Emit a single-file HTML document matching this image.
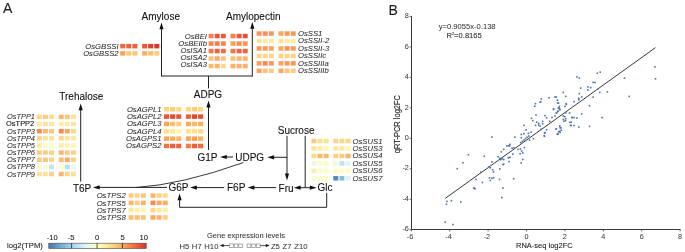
<!DOCTYPE html>
<html><head><meta charset="utf-8"><style>
html,body{margin:0;padding:0;background:#fff;}
body{width:685px;height:252px;overflow:hidden;}
svg{display:block;font-family:"Liberation Sans", sans-serif;will-change:transform;filter:blur(0.4px);}
</style></head><body>
<svg width="685" height="252" viewBox="0 0 685 252">
<defs><linearGradient id="cb" x1="0" x2="1" y1="0" y2="0"><stop offset="0.0000" stop-color="#4575b4"/><stop offset="0.1250" stop-color="#74add1"/><stop offset="0.2500" stop-color="#abd9e9"/><stop offset="0.3750" stop-color="#e0f3f8"/><stop offset="0.5000" stop-color="#ffffbf"/><stop offset="0.6250" stop-color="#fee090"/><stop offset="0.7500" stop-color="#fdae61"/><stop offset="0.8750" stop-color="#f46d43"/><stop offset="1.0000" stop-color="#d73027"/></linearGradient></defs>
<rect x="120.20" y="43.90" width="5" height="4.5" fill="#f16640"/>
<rect x="126.30" y="43.90" width="5" height="4.5" fill="#ee613d"/>
<rect x="132.40" y="43.90" width="5" height="4.5" fill="#ee613d"/>
<rect x="142.10" y="43.90" width="5" height="4.5" fill="#ea5739"/>
<rect x="148.20" y="43.90" width="5" height="4.5" fill="#df412f"/>
<rect x="154.30" y="43.90" width="5" height="4.5" fill="#da372a"/>
<text x="118.6" y="48.6" font-size="7.7" text-anchor="end" font-style="italic" fill="#2a2a2a" stroke="#2a2a2a" stroke-width="0.1" stroke-opacity="0.5">OsGBSSI</text>
<rect x="120.20" y="51.10" width="5" height="4.5" fill="#fba15b"/>
<rect x="126.30" y="51.10" width="5" height="4.5" fill="#fdc678"/>
<rect x="132.40" y="51.10" width="5" height="4.5" fill="#fdc476"/>
<rect x="142.10" y="51.10" width="5" height="4.5" fill="#fdae61"/>
<rect x="148.20" y="51.10" width="5" height="4.5" fill="#fdbe70"/>
<rect x="154.30" y="51.10" width="5" height="4.5" fill="#fecc7d"/>
<text x="118.6" y="55.8" font-size="7.7" text-anchor="end" font-style="italic" fill="#2a2a2a" stroke="#2a2a2a" stroke-width="0.1" stroke-opacity="0.5">OsGBSS2</text>
<rect x="208.60" y="33.80" width="5" height="4.5" fill="#f77f4b"/>
<rect x="214.70" y="33.80" width="5" height="4.5" fill="#e85538"/>
<rect x="220.80" y="33.80" width="5" height="4.5" fill="#eb593a"/>
<rect x="230.50" y="33.80" width="5" height="4.5" fill="#f77f4b"/>
<rect x="236.60" y="33.80" width="5" height="4.5" fill="#ea5739"/>
<rect x="242.70" y="33.80" width="5" height="4.5" fill="#e65036"/>
<text x="207" y="38.5" font-size="7.7" text-anchor="end" font-style="italic" fill="#2a2a2a" stroke="#2a2a2a" stroke-width="0.1" stroke-opacity="0.5">OsBEI</text>
<rect x="208.60" y="41.30" width="5" height="4.5" fill="#f7844e"/>
<rect x="214.70" y="41.30" width="5" height="4.5" fill="#f67d4a"/>
<rect x="220.80" y="41.30" width="5" height="4.5" fill="#f7844e"/>
<rect x="230.50" y="41.30" width="5" height="4.5" fill="#fb9e5a"/>
<rect x="236.60" y="41.30" width="5" height="4.5" fill="#f88a50"/>
<rect x="242.70" y="41.30" width="5" height="4.5" fill="#f99455"/>
<text x="207" y="45.65" font-size="7.7" text-anchor="end" font-style="italic" fill="#2a2a2a" stroke="#2a2a2a" stroke-width="0.1" stroke-opacity="0.5">OsBEIIb</text>
<rect x="208.60" y="48.80" width="5" height="4.5" fill="#f57748"/>
<rect x="214.70" y="48.80" width="5" height="4.5" fill="#ee613d"/>
<rect x="220.80" y="48.80" width="5" height="4.5" fill="#f36b42"/>
<rect x="230.50" y="48.80" width="5" height="4.5" fill="#f57748"/>
<rect x="236.60" y="48.80" width="5" height="4.5" fill="#ef633f"/>
<rect x="242.70" y="48.80" width="5" height="4.5" fill="#ef633f"/>
<text x="207" y="52.8" font-size="7.7" text-anchor="end" font-style="italic" fill="#2a2a2a" stroke="#2a2a2a" stroke-width="0.1" stroke-opacity="0.5">OsISA1</text>
<rect x="208.60" y="56.30" width="5" height="4.5" fill="#fdc476"/>
<rect x="214.70" y="56.30" width="5" height="4.5" fill="#fdab60"/>
<rect x="220.80" y="56.30" width="5" height="4.5" fill="#fdc476"/>
<rect x="230.50" y="56.30" width="5" height="4.5" fill="#fdc072"/>
<rect x="236.60" y="56.30" width="5" height="4.5" fill="#fdb467"/>
<rect x="242.70" y="56.30" width="5" height="4.5" fill="#fdb467"/>
<text x="207" y="59.95" font-size="7.7" text-anchor="end" font-style="italic" fill="#2a2a2a" stroke="#2a2a2a" stroke-width="0.1" stroke-opacity="0.5">OsISA2</text>
<rect x="208.60" y="63.80" width="5" height="4.5" fill="#fdba6c"/>
<rect x="214.70" y="63.80" width="5" height="4.5" fill="#fdb467"/>
<rect x="220.80" y="63.80" width="5" height="4.5" fill="#feda8a"/>
<rect x="230.50" y="63.80" width="5" height="4.5" fill="#fdb265"/>
<rect x="236.60" y="63.80" width="5" height="4.5" fill="#fdb265"/>
<rect x="242.70" y="63.80" width="5" height="4.5" fill="#fdb265"/>
<text x="207" y="67.1" font-size="7.7" text-anchor="end" font-style="italic" fill="#2a2a2a" stroke="#2a2a2a" stroke-width="0.1" stroke-opacity="0.5">OsISA3</text>
<rect x="256.60" y="31.30" width="5" height="4.5" fill="#f99455"/>
<rect x="262.70" y="31.30" width="5" height="4.5" fill="#f98f53"/>
<rect x="268.80" y="31.30" width="5" height="4.5" fill="#fa9756"/>
<rect x="278.50" y="31.30" width="5" height="4.5" fill="#fca65d"/>
<rect x="284.60" y="31.30" width="5" height="4.5" fill="#fa9957"/>
<rect x="290.70" y="31.30" width="5" height="4.5" fill="#fa9957"/>
<text x="298" y="36.0" font-size="7.7" text-anchor="start" font-style="italic" fill="#2a2a2a" stroke="#2a2a2a" stroke-width="0.1" stroke-opacity="0.5">OsSS1</text>
<rect x="256.60" y="38.75" width="5" height="4.5" fill="#fee192"/>
<rect x="262.70" y="38.75" width="5" height="4.5" fill="#feeca3"/>
<rect x="268.80" y="38.75" width="5" height="4.5" fill="#feeca3"/>
<rect x="278.50" y="38.75" width="5" height="4.5" fill="#fee294"/>
<rect x="284.60" y="38.75" width="5" height="4.5" fill="#feeca3"/>
<rect x="290.70" y="38.75" width="5" height="4.5" fill="#feefa7"/>
<text x="298" y="43.45" font-size="7.7" text-anchor="start" font-style="italic" fill="#2a2a2a" stroke="#2a2a2a" stroke-width="0.1" stroke-opacity="0.5">OsSSII-2</text>
<rect x="256.60" y="46.20" width="5" height="4.5" fill="#fa9957"/>
<rect x="262.70" y="46.20" width="5" height="4.5" fill="#fa9957"/>
<rect x="268.80" y="46.20" width="5" height="4.5" fill="#fca45c"/>
<rect x="278.50" y="46.20" width="5" height="4.5" fill="#fca95f"/>
<rect x="284.60" y="46.20" width="5" height="4.5" fill="#f99455"/>
<rect x="290.70" y="46.20" width="5" height="4.5" fill="#fa9957"/>
<text x="298" y="50.9" font-size="7.7" text-anchor="start" font-style="italic" fill="#2a2a2a" stroke="#2a2a2a" stroke-width="0.1" stroke-opacity="0.5">OsSSII-3</text>
<rect x="256.60" y="53.65" width="5" height="4.5" fill="#fed687"/>
<rect x="262.70" y="53.65" width="5" height="4.5" fill="#feda8a"/>
<rect x="268.80" y="53.65" width="5" height="4.5" fill="#fed687"/>
<rect x="278.50" y="53.65" width="5" height="4.5" fill="#fed283"/>
<rect x="284.60" y="53.65" width="5" height="4.5" fill="#fed687"/>
<rect x="290.70" y="53.65" width="5" height="4.5" fill="#fed283"/>
<text x="298" y="58.35" font-size="7.7" text-anchor="start" font-style="italic" fill="#2a2a2a" stroke="#2a2a2a" stroke-width="0.1" stroke-opacity="0.5">OsSSIIc</text>
<rect x="256.60" y="61.10" width="5" height="4.5" fill="#fb9e5a"/>
<rect x="262.70" y="61.10" width="5" height="4.5" fill="#f8874f"/>
<rect x="268.80" y="61.10" width="5" height="4.5" fill="#fa9957"/>
<rect x="278.50" y="61.10" width="5" height="4.5" fill="#fca45c"/>
<rect x="284.60" y="61.10" width="5" height="4.5" fill="#fa9957"/>
<rect x="290.70" y="61.10" width="5" height="4.5" fill="#f99455"/>
<text x="298" y="65.8" font-size="7.7" text-anchor="start" font-style="italic" fill="#2a2a2a" stroke="#2a2a2a" stroke-width="0.1" stroke-opacity="0.5">OsSSIIIa</text>
<rect x="256.60" y="68.55" width="5" height="4.5" fill="#fba15b"/>
<rect x="262.70" y="68.55" width="5" height="4.5" fill="#fdc274"/>
<rect x="268.80" y="68.55" width="5" height="4.5" fill="#feca7b"/>
<rect x="278.50" y="68.55" width="5" height="4.5" fill="#fca95f"/>
<rect x="284.60" y="68.55" width="5" height="4.5" fill="#fdc678"/>
<rect x="290.70" y="68.55" width="5" height="4.5" fill="#feca7b"/>
<text x="298" y="73.25" font-size="7.7" text-anchor="start" font-style="italic" fill="#2a2a2a" stroke="#2a2a2a" stroke-width="0.1" stroke-opacity="0.5">OsSSIIIb</text>
<rect x="36.80" y="114.60" width="5" height="4.5" fill="#fed687"/>
<rect x="42.90" y="114.60" width="5" height="4.5" fill="#fece7f"/>
<rect x="49.00" y="114.60" width="5" height="4.5" fill="#fede8e"/>
<rect x="58.70" y="114.60" width="5" height="4.5" fill="#fdb86a"/>
<rect x="64.80" y="114.60" width="5" height="4.5" fill="#fdc678"/>
<rect x="70.90" y="114.60" width="5" height="4.5" fill="#fee294"/>
<text x="35.0" y="119.3" font-size="7.45" text-anchor="end" font-style="italic" fill="#2a2a2a" stroke="#2a2a2a" stroke-width="0.1" stroke-opacity="0.5">OsTPP1</text>
<rect x="36.80" y="121.75" width="5" height="4.5" fill="#fee99d"/>
<rect x="42.90" y="121.75" width="5" height="4.5" fill="#fee699"/>
<rect x="49.00" y="121.75" width="5" height="4.5" fill="#fee699"/>
<rect x="58.70" y="121.75" width="5" height="4.5" fill="#feeca3"/>
<rect x="64.80" y="121.75" width="5" height="4.5" fill="#feeca3"/>
<rect x="70.90" y="121.75" width="5" height="4.5" fill="#fee496"/>
<text x="34.2" y="126.45" font-size="7.45" text-anchor="end" fill="#111" stroke="#111" stroke-width="0.1">OsTPP2</text>
<rect x="36.80" y="128.90" width="5" height="4.5" fill="#f88a50"/>
<rect x="42.90" y="128.90" width="5" height="4.5" fill="#fdb669"/>
<rect x="49.00" y="128.90" width="5" height="4.5" fill="#fdc678"/>
<rect x="58.70" y="128.90" width="5" height="4.5" fill="#f8874f"/>
<rect x="64.80" y="128.90" width="5" height="4.5" fill="#fca65d"/>
<rect x="70.90" y="128.90" width="5" height="4.5" fill="#fed687"/>
<text x="35.0" y="133.6" font-size="7.45" text-anchor="end" font-style="italic" fill="#2a2a2a" stroke="#2a2a2a" stroke-width="0.1" stroke-opacity="0.5">OsTPP3</text>
<rect x="36.80" y="136.05" width="5" height="4.5" fill="#fed485"/>
<rect x="42.90" y="136.05" width="5" height="4.5" fill="#fee496"/>
<rect x="49.00" y="136.05" width="5" height="4.5" fill="#fee192"/>
<rect x="58.70" y="136.05" width="5" height="4.5" fill="#fed687"/>
<rect x="64.80" y="136.05" width="5" height="4.5" fill="#fee598"/>
<rect x="70.90" y="136.05" width="5" height="4.5" fill="#fee99d"/>
<text x="35.0" y="140.75" font-size="7.45" text-anchor="end" font-style="italic" fill="#2a2a2a" stroke="#2a2a2a" stroke-width="0.1" stroke-opacity="0.5">OsTPP4</text>
<rect x="36.80" y="143.20" width="5" height="4.5" fill="#fee99d"/>
<rect x="42.90" y="143.20" width="5" height="4.5" fill="#ffffbf"/>
<rect x="49.00" y="143.20" width="5" height="4.5" fill="#ffffbf"/>
<rect x="58.70" y="143.20" width="5" height="4.5" fill="#feeca3"/>
<rect x="64.80" y="143.20" width="5" height="4.5" fill="#fff3ac"/>
<rect x="70.90" y="143.20" width="5" height="4.5" fill="#fff5b0"/>
<text x="35.0" y="147.9" font-size="7.45" text-anchor="end" font-style="italic" fill="#2a2a2a" stroke="#2a2a2a" stroke-width="0.1" stroke-opacity="0.5">OsTPP5</text>
<rect x="36.80" y="150.35" width="5" height="4.5" fill="#fecc7d"/>
<rect x="42.90" y="150.35" width="5" height="4.5" fill="#fece7f"/>
<rect x="49.00" y="150.35" width="5" height="4.5" fill="#fed081"/>
<rect x="58.70" y="150.35" width="5" height="4.5" fill="#fdb669"/>
<rect x="64.80" y="150.35" width="5" height="4.5" fill="#fecc7d"/>
<rect x="70.90" y="150.35" width="5" height="4.5" fill="#fed283"/>
<text x="35.0" y="155.05" font-size="7.45" text-anchor="end" font-style="italic" fill="#2a2a2a" stroke="#2a2a2a" stroke-width="0.1" stroke-opacity="0.5">OsTPP6</text>
<rect x="36.80" y="157.50" width="5" height="4.5" fill="#fecc7d"/>
<rect x="42.90" y="157.50" width="5" height="4.5" fill="#fdc678"/>
<rect x="49.00" y="157.50" width="5" height="4.5" fill="#fed687"/>
<rect x="58.70" y="157.50" width="5" height="4.5" fill="#fdbc6e"/>
<rect x="64.80" y="157.50" width="5" height="4.5" fill="#fca95f"/>
<rect x="70.90" y="157.50" width="5" height="4.5" fill="#fed081"/>
<text x="35.0" y="162.2" font-size="7.45" text-anchor="end" font-style="italic" fill="#2a2a2a" stroke="#2a2a2a" stroke-width="0.1" stroke-opacity="0.5">OsTPP7</text>
<rect x="36.80" y="164.65" width="5" height="4.5" fill="#f5fbd1"/>
<rect x="42.90" y="164.65" width="5" height="4.5" fill="#f8fccd"/>
<rect x="49.00" y="164.65" width="5" height="4.5" fill="#c4e5f0"/>
<rect x="58.70" y="164.65" width="5" height="4.5" fill="#fffdbb"/>
<rect x="64.80" y="164.65" width="5" height="4.5" fill="#b6deec"/>
<rect x="70.90" y="164.65" width="5" height="4.5" fill="#f0f9da"/>
<text x="35.0" y="169.35" font-size="7.45" text-anchor="end" font-style="italic" fill="#2a2a2a" stroke="#2a2a2a" stroke-width="0.1" stroke-opacity="0.5">OsTPP8</text>
<rect x="36.80" y="171.80" width="5" height="4.5" fill="#fee090"/>
<rect x="42.90" y="171.80" width="5" height="4.5" fill="#fee294"/>
<rect x="49.00" y="171.80" width="5" height="4.5" fill="#fed283"/>
<rect x="58.70" y="171.80" width="5" height="4.5" fill="#fdb86a"/>
<rect x="64.80" y="171.80" width="5" height="4.5" fill="#fed687"/>
<rect x="70.90" y="171.80" width="5" height="4.5" fill="#fede8e"/>
<text x="35.0" y="176.5" font-size="7.45" text-anchor="end" font-style="italic" fill="#2a2a2a" stroke="#2a2a2a" stroke-width="0.1" stroke-opacity="0.5">OsTPP9</text>
<rect x="164.00" y="107.00" width="5" height="4.5" fill="#fed687"/>
<rect x="170.10" y="107.00" width="5" height="4.5" fill="#fecc7d"/>
<rect x="176.20" y="107.00" width="5" height="4.5" fill="#fed888"/>
<rect x="185.90" y="107.00" width="5" height="4.5" fill="#fed687"/>
<rect x="192.00" y="107.00" width="5" height="4.5" fill="#fecc7d"/>
<rect x="198.10" y="107.00" width="5" height="4.5" fill="#fed687"/>
<text x="161.5" y="111.7" font-size="7.7" text-anchor="end" font-style="italic" fill="#2a2a2a" stroke="#2a2a2a" stroke-width="0.1" stroke-opacity="0.5">OsAGPL1</text>
<rect x="164.00" y="114.35" width="5" height="4.5" fill="#e85538"/>
<rect x="170.10" y="114.35" width="5" height="4.5" fill="#e44b33"/>
<rect x="176.20" y="114.35" width="5" height="4.5" fill="#e75237"/>
<rect x="185.90" y="114.35" width="5" height="4.5" fill="#ed5e3c"/>
<rect x="192.00" y="114.35" width="5" height="4.5" fill="#e14631"/>
<rect x="198.10" y="114.35" width="5" height="4.5" fill="#e75237"/>
<text x="161.5" y="119.05" font-size="7.7" text-anchor="end" font-style="italic" fill="#2a2a2a" stroke="#2a2a2a" stroke-width="0.1" stroke-opacity="0.5">OsAGPL2</text>
<rect x="164.00" y="121.70" width="5" height="4.5" fill="#fba15b"/>
<rect x="170.10" y="121.70" width="5" height="4.5" fill="#fdbe70"/>
<rect x="176.20" y="121.70" width="5" height="4.5" fill="#fece7f"/>
<rect x="185.90" y="121.70" width="5" height="4.5" fill="#fdae61"/>
<rect x="192.00" y="121.70" width="5" height="4.5" fill="#fdba6c"/>
<rect x="198.10" y="121.70" width="5" height="4.5" fill="#fdae61"/>
<text x="161.5" y="126.4" font-size="7.7" text-anchor="end" font-style="italic" fill="#2a2a2a" stroke="#2a2a2a" stroke-width="0.1" stroke-opacity="0.5">OsAGPL3</text>
<rect x="164.00" y="129.05" width="5" height="4.5" fill="#fee090"/>
<rect x="170.10" y="129.05" width="5" height="4.5" fill="#fee99d"/>
<rect x="176.20" y="129.05" width="5" height="4.5" fill="#fff6b2"/>
<rect x="185.90" y="129.05" width="5" height="4.5" fill="#fee090"/>
<rect x="192.00" y="129.05" width="5" height="4.5" fill="#fee090"/>
<rect x="198.10" y="129.05" width="5" height="4.5" fill="#feda8a"/>
<text x="161.5" y="133.75" font-size="7.7" text-anchor="end" font-style="italic" fill="#2a2a2a" stroke="#2a2a2a" stroke-width="0.1" stroke-opacity="0.5">OsAGPL4</text>
<rect x="164.00" y="136.40" width="5" height="4.5" fill="#fca45c"/>
<rect x="170.10" y="136.40" width="5" height="4.5" fill="#fdae61"/>
<rect x="176.20" y="136.40" width="5" height="4.5" fill="#fdb669"/>
<rect x="185.90" y="136.40" width="5" height="4.5" fill="#fca45c"/>
<rect x="192.00" y="136.40" width="5" height="4.5" fill="#fb9e5a"/>
<rect x="198.10" y="136.40" width="5" height="4.5" fill="#fdb265"/>
<text x="161.5" y="141.1" font-size="7.7" text-anchor="end" font-style="italic" fill="#2a2a2a" stroke="#2a2a2a" stroke-width="0.1" stroke-opacity="0.5">OsAGPS1</text>
<rect x="164.00" y="143.75" width="5" height="4.5" fill="#f57245"/>
<rect x="170.10" y="143.75" width="5" height="4.5" fill="#ed5e3c"/>
<rect x="176.20" y="143.75" width="5" height="4.5" fill="#ef633f"/>
<rect x="185.90" y="143.75" width="5" height="4.5" fill="#f67a49"/>
<rect x="192.00" y="143.75" width="5" height="4.5" fill="#ed5e3c"/>
<rect x="198.10" y="143.75" width="5" height="4.5" fill="#f26841"/>
<text x="161.5" y="148.45" font-size="7.7" text-anchor="end" font-style="italic" fill="#2a2a2a" stroke="#2a2a2a" stroke-width="0.1" stroke-opacity="0.5">OsAGPS2</text>
<rect x="311.40" y="138.80" width="5" height="4.5" fill="#fec879"/>
<rect x="317.50" y="138.80" width="5" height="4.5" fill="#fee090"/>
<rect x="323.60" y="138.80" width="5" height="4.5" fill="#fee294"/>
<rect x="333.30" y="138.80" width="5" height="4.5" fill="#fed485"/>
<rect x="339.40" y="138.80" width="5" height="4.5" fill="#fed485"/>
<rect x="345.50" y="138.80" width="5" height="4.5" fill="#fed687"/>
<text x="352.5" y="143.5" font-size="7.7" text-anchor="start" font-style="italic" fill="#2a2a2a" stroke="#2a2a2a" stroke-width="0.1" stroke-opacity="0.5">OsSUS1</text>
<rect x="311.40" y="146.25" width="5" height="4.5" fill="#fee598"/>
<rect x="317.50" y="146.25" width="5" height="4.5" fill="#feeea5"/>
<rect x="323.60" y="146.25" width="5" height="4.5" fill="#fff9b6"/>
<rect x="333.30" y="146.25" width="5" height="4.5" fill="#fee699"/>
<rect x="339.40" y="146.25" width="5" height="4.5" fill="#feea9f"/>
<rect x="345.50" y="146.25" width="5" height="4.5" fill="#fff6b2"/>
<text x="352.5" y="150.95" font-size="7.7" text-anchor="start" font-style="italic" fill="#2a2a2a" stroke="#2a2a2a" stroke-width="0.1" stroke-opacity="0.5">OsSUS3</text>
<rect x="311.40" y="153.70" width="5" height="4.5" fill="#feda8a"/>
<rect x="317.50" y="153.70" width="5" height="4.5" fill="#fdb86a"/>
<rect x="323.60" y="153.70" width="5" height="4.5" fill="#fdb86a"/>
<rect x="333.30" y="153.70" width="5" height="4.5" fill="#fed081"/>
<rect x="339.40" y="153.70" width="5" height="4.5" fill="#fece7f"/>
<rect x="345.50" y="153.70" width="5" height="4.5" fill="#fdb467"/>
<text x="352.5" y="158.4" font-size="7.7" text-anchor="start" font-style="italic" fill="#2a2a2a" stroke="#2a2a2a" stroke-width="0.1" stroke-opacity="0.5">OsSUS4</text>
<rect x="311.40" y="161.15" width="5" height="4.5" fill="#ebf7e3"/>
<rect x="317.50" y="161.15" width="5" height="4.5" fill="#fbfec6"/>
<rect x="323.60" y="161.15" width="5" height="4.5" fill="#f9fdca"/>
<rect x="333.30" y="161.15" width="5" height="4.5" fill="#f0f9da"/>
<rect x="339.40" y="161.15" width="5" height="4.5" fill="#bee2ee"/>
<rect x="345.50" y="161.15" width="5" height="4.5" fill="#e2f4f3"/>
<text x="352.5" y="165.85" font-size="7.7" text-anchor="start" font-style="italic" fill="#2a2a2a" stroke="#2a2a2a" stroke-width="0.1" stroke-opacity="0.5">OsSUS5</text>
<rect x="311.40" y="168.60" width="5" height="4.5" fill="#feeea5"/>
<rect x="317.50" y="168.60" width="5" height="4.5" fill="#f9fdca"/>
<rect x="323.60" y="168.60" width="5" height="4.5" fill="#f9fdca"/>
<rect x="333.30" y="168.60" width="5" height="4.5" fill="#fffbb9"/>
<rect x="339.40" y="168.60" width="5" height="4.5" fill="#ffffbf"/>
<rect x="345.50" y="168.60" width="5" height="4.5" fill="#ffffbf"/>
<text x="352.5" y="173.3" font-size="7.7" text-anchor="start" font-style="italic" fill="#2a2a2a" stroke="#2a2a2a" stroke-width="0.1" stroke-opacity="0.5">OsSUS6</text>
<rect x="311.40" y="176.05" width="5" height="4.5" fill="#f9fdca"/>
<rect x="317.50" y="176.05" width="5" height="4.5" fill="#fbfec6"/>
<rect x="323.60" y="176.05" width="5" height="4.5" fill="#fbfec6"/>
<rect x="333.30" y="176.05" width="5" height="4.5" fill="#5487bd"/>
<rect x="339.40" y="176.05" width="5" height="4.5" fill="#88bdda"/>
<rect x="345.50" y="176.05" width="5" height="4.5" fill="#def2f7"/>
<text x="352.5" y="180.75" font-size="7.7" text-anchor="start" font-style="italic" fill="#2a2a2a" stroke="#2a2a2a" stroke-width="0.1" stroke-opacity="0.5">OsSUS7</text>
<rect x="128.60" y="193.30" width="5" height="4.5" fill="#fecc7d"/>
<rect x="134.70" y="193.30" width="5" height="4.5" fill="#fed687"/>
<rect x="140.80" y="193.30" width="5" height="4.5" fill="#fdc678"/>
<rect x="150.50" y="193.30" width="5" height="4.5" fill="#fdb669"/>
<rect x="156.60" y="193.30" width="5" height="4.5" fill="#fed283"/>
<rect x="162.70" y="193.30" width="5" height="4.5" fill="#feda8a"/>
<text x="125.7" y="198.4" font-size="7.7" text-anchor="end" font-style="italic" fill="#2a2a2a" stroke="#2a2a2a" stroke-width="0.1" stroke-opacity="0.5">OsTPS2</text>
<rect x="128.60" y="200.60" width="5" height="4.5" fill="#fdb669"/>
<rect x="134.70" y="200.60" width="5" height="4.5" fill="#fecc7d"/>
<rect x="140.80" y="200.60" width="5" height="4.5" fill="#fdb265"/>
<rect x="150.50" y="200.60" width="5" height="4.5" fill="#f88a50"/>
<rect x="156.60" y="200.60" width="5" height="4.5" fill="#fca95f"/>
<rect x="162.70" y="200.60" width="5" height="4.5" fill="#fdae61"/>
<text x="125.7" y="205.7" font-size="7.7" text-anchor="end" font-style="italic" fill="#2a2a2a" stroke="#2a2a2a" stroke-width="0.1" stroke-opacity="0.5">OsTPS5</text>
<rect x="128.60" y="207.90" width="5" height="4.5" fill="#feea9f"/>
<rect x="134.70" y="207.90" width="5" height="4.5" fill="#fff0a8"/>
<rect x="140.80" y="207.90" width="5" height="4.5" fill="#fff5b0"/>
<rect x="150.50" y="207.90" width="5" height="4.5" fill="#fed687"/>
<rect x="156.60" y="207.90" width="5" height="4.5" fill="#fee99d"/>
<rect x="162.70" y="207.90" width="5" height="4.5" fill="#fff0a8"/>
<text x="125.7" y="213.0" font-size="7.7" text-anchor="end" font-style="italic" fill="#2a2a2a" stroke="#2a2a2a" stroke-width="0.1" stroke-opacity="0.5">OsTPS7</text>
<rect x="128.60" y="215.20" width="5" height="4.5" fill="#fdbc6e"/>
<rect x="134.70" y="215.20" width="5" height="4.5" fill="#fdbc6e"/>
<rect x="140.80" y="215.20" width="5" height="4.5" fill="#fdc274"/>
<rect x="150.50" y="215.20" width="5" height="4.5" fill="#fca45c"/>
<rect x="156.60" y="215.20" width="5" height="4.5" fill="#fdb265"/>
<rect x="162.70" y="215.20" width="5" height="4.5" fill="#fece7f"/>
<text x="125.7" y="220.3" font-size="7.7" text-anchor="end" font-style="italic" fill="#2a2a2a" stroke="#2a2a2a" stroke-width="0.1" stroke-opacity="0.5">OsTPS8</text>
<text x="3" y="13.2" font-size="14" text-anchor="start" fill="#1a1a1a" stroke="#1a1a1a" stroke-width="0.1">A</text>
<text x="141.6" y="20.400000000000002" font-size="10" text-anchor="start" fill="#111" stroke="#111" stroke-width="0.1">Amylose</text>
<text x="226" y="20.2" font-size="10" text-anchor="start" fill="#111" stroke="#111" stroke-width="0.1">Amylopectin</text>
<text x="59.3" y="100.3" font-size="10" text-anchor="start" fill="#111" stroke="#111" stroke-width="0.1">Trehalose</text>
<text x="193.8" y="98.2" font-size="10" text-anchor="start" fill="#111" stroke="#111" stroke-width="0.1">ADPG</text>
<text x="197.5" y="161.10000000000002" font-size="10" text-anchor="start" fill="#111" stroke="#111" stroke-width="0.1">G1P</text>
<text x="235.2" y="161.10000000000002" font-size="10" text-anchor="start" fill="#111" stroke="#111" stroke-width="0.1">UDPG</text>
<text x="277.8" y="134.10000000000002" font-size="10" text-anchor="start" fill="#111" stroke="#111" stroke-width="0.1">Sucrose</text>
<text x="278.6" y="191.5" font-size="10" text-anchor="start" fill="#111" stroke="#111" stroke-width="0.1">Fru</text>
<text x="317.6" y="191.3" font-size="10" text-anchor="start" fill="#111" stroke="#111" stroke-width="0.1">Glc</text>
<text x="227" y="191.3" font-size="10" text-anchor="start" fill="#111" stroke="#111" stroke-width="0.1">F6P</text>
<text x="168.4" y="191.3" font-size="10" text-anchor="start" fill="#111" stroke="#111" stroke-width="0.1">G6P</text>
<text x="72.9" y="191.8" font-size="10" text-anchor="start" fill="#111" stroke="#111" stroke-width="0.1">T6P</text>
<line x1="161.5" y1="76" x2="252.3" y2="76" stroke="#222" stroke-width="1.0"/>
<line x1="161.5" y1="76.5" x2="161.5" y2="26.58" stroke="#222" stroke-width="1"/>
<polygon points="161.5,22.5 163.6,29.3 159.4,29.3" fill="#111"/>
<line x1="252.3" y1="76.5" x2="252.3" y2="26.08" stroke="#222" stroke-width="1"/>
<polygon points="252.3,22 254.4,28.8 250.20000000000002,28.8" fill="#111"/>
<line x1="208.5" y1="76" x2="208.5" y2="88.4" stroke="#222" stroke-width="1.0"/>
<line x1="208.5" y1="150" x2="208.5" y2="104.67999999999999" stroke="#222" stroke-width="1"/>
<polygon points="208.5,100.6 210.6,107.39999999999999 206.4,107.39999999999999" fill="#111"/>
<line x1="80.7" y1="181.6" x2="80.7" y2="107.48" stroke="#222" stroke-width="1"/>
<polygon points="80.7,103.4 82.8,110.2 78.60000000000001,110.2" fill="#111"/>
<line x1="167" y1="187.4" x2="96.98" y2="187.4" stroke="#222" stroke-width="1"/>
<polygon points="92.9,187.4 99.7,185.3 99.7,189.5" fill="#111"/>
<path d="M243.5,162.5 Q182,184.5 136,187.5" fill="none" stroke="#222" stroke-width="0.9"/>
<line x1="233" y1="157" x2="224.08" y2="157.0" stroke="#222" stroke-width="1"/>
<polygon points="220,157 226.8,154.9 226.8,159.1" fill="#111"/>
<line x1="287" y1="157.3" x2="271.38" y2="157.3" stroke="#222" stroke-width="1"/>
<polygon points="267.3,157.3 274.1,155.20000000000002 274.1,159.4" fill="#111"/>
<line x1="287" y1="135.8" x2="287" y2="157.3" stroke="#222" stroke-width="1.0"/>
<line x1="287" y1="157" x2="287.0" y2="176.32" stroke="#222" stroke-width="1"/>
<polygon points="287,180.4 284.9,173.6 289.1,173.6" fill="#111"/>
<line x1="305.2" y1="135.8" x2="305.2" y2="187.7" stroke="#222" stroke-width="1.0"/>
<line x1="305.2" y1="187.7" x2="297.88" y2="187.7" stroke="#222" stroke-width="1"/>
<polygon points="293.8,187.7 300.6,185.6 300.6,189.79999999999998" fill="#111"/>
<line x1="305.2" y1="187.7" x2="312.52000000000004" y2="187.7" stroke="#222" stroke-width="1"/>
<polygon points="316.6,187.7 309.8,189.79999999999998 309.8,185.6" fill="#111"/>
<line x1="276" y1="187.6" x2="251.68" y2="187.6" stroke="#222" stroke-width="1"/>
<polygon points="247.6,187.6 254.4,185.5 254.4,189.7" fill="#111"/>
<line x1="224" y1="187.6" x2="194.18" y2="187.6" stroke="#222" stroke-width="1"/>
<polygon points="190.1,187.6 196.9,185.5 196.9,189.7" fill="#111"/>
<line x1="326.7" y1="192.8" x2="326.7" y2="207.3" stroke="#222" stroke-width="1.0"/>
<line x1="326.7" y1="207.3" x2="179.6" y2="207.3" stroke="#222" stroke-width="1.0"/>
<line x1="179.6" y1="207.3" x2="179.6" y2="197.48000000000002" stroke="#222" stroke-width="1"/>
<polygon points="179.6,193.4 181.7,200.20000000000002 177.5,200.20000000000002" fill="#111"/>
<text x="207" y="237.8" font-size="7.5" text-anchor="start" fill="#333" stroke="#333" stroke-width="0.1" stroke-opacity="0.4">Gene expression levels</text>
<text x="179.4" y="248.6" font-size="7.7" text-anchor="start" fill="#333" stroke="#333" stroke-width="0.1" word-spacing="0.5" stroke-opacity="0.4">H5 H7 H10</text>
<text x="270.9" y="249.0" font-size="7.7" text-anchor="start" fill="#333" stroke="#333" stroke-width="0.1" word-spacing="0.6" stroke-opacity="0.4">Z5 Z7 Z10</text>
<line x1="229" y1="245.6" x2="222.1" y2="245.6" stroke="#222" stroke-width="0.8"/>
<polygon points="219.7,245.6 223.7,244.1 223.7,247.1" fill="#111"/>
<line x1="260" y1="245.6" x2="267.40000000000003" y2="245.6" stroke="#222" stroke-width="0.8"/>
<polygon points="269.8,245.6 265.8,247.1 265.8,244.1" fill="#111"/>
<rect x="229.60" y="244" width="3.8" height="3.4" fill="none" stroke="#888" stroke-width="0.7"/>
<rect x="247.10" y="244" width="3.8" height="3.4" fill="none" stroke="#888" stroke-width="0.7"/>
<rect x="234.20" y="244" width="3.8" height="3.4" fill="none" stroke="#888" stroke-width="0.7"/>
<rect x="251.70" y="244" width="3.8" height="3.4" fill="none" stroke="#888" stroke-width="0.7"/>
<rect x="238.80" y="244" width="3.8" height="3.4" fill="none" stroke="#888" stroke-width="0.7"/>
<rect x="256.30" y="244" width="3.8" height="3.4" fill="none" stroke="#888" stroke-width="0.7"/>
<text x="7" y="247.5" font-size="7.7" text-anchor="start" fill="#222" stroke="#222" stroke-width="0.1">log2(TPM)</text>
<rect x="48.8" y="243.2" width="97.4" height="5.2" fill="url(#cb)" stroke="#444" stroke-width="0.6"/>
<line x1="71.6" y1="243.2" x2="71.6" y2="248.4" stroke="#222" stroke-width="0.8"/>
<line x1="97.1" y1="243.2" x2="97.1" y2="248.4" stroke="#222" stroke-width="0.8"/>
<line x1="122.4" y1="243.2" x2="122.4" y2="248.4" stroke="#222" stroke-width="0.8"/>
<text x="52.2" y="239.7" font-size="7.6" text-anchor="middle" fill="#222" stroke="#222" stroke-width="0.1">-10</text>
<text x="71.2" y="239.7" font-size="7.6" text-anchor="middle" fill="#222" stroke="#222" stroke-width="0.1">-5</text>
<text x="97" y="239.7" font-size="7.6" text-anchor="middle" fill="#222" stroke="#222" stroke-width="0.1">0</text>
<text x="122.6" y="239.7" font-size="7.6" text-anchor="middle" fill="#222" stroke="#222" stroke-width="0.1">5</text>
<text x="143.7" y="239.7" font-size="7.6" text-anchor="middle" fill="#222" stroke="#222" stroke-width="0.1">10</text>
<text x="388.6" y="14.6" font-size="14" text-anchor="start" fill="#1a1a1a" stroke="#1a1a1a" stroke-width="0.1">B</text>
<line x1="411.5" y1="16" x2="411.5" y2="230" stroke="#3a3a3a" stroke-width="1"/>
<line x1="411" y1="229.5" x2="680.5" y2="229.5" stroke="#3a3a3a" stroke-width="1"/>
<line x1="409.6" y1="229.74" x2="411" y2="229.74" stroke="#444" stroke-width="0.8"/>
<text x="408.9" y="231.44" font-size="7.3" text-anchor="end" fill="#3a3a3a" stroke="#3a3a3a" stroke-width="0.1" stroke-opacity="0.3">-6</text>
<line x1="411.3" y1="229.5" x2="411.3" y2="231.4" stroke="#444" stroke-width="0.8"/>
<text x="410.1" y="239.0" font-size="7.3" text-anchor="middle" fill="#3a3a3a" stroke="#3a3a3a" stroke-width="0.1" stroke-opacity="0.3">-6</text>
<line x1="409.6" y1="199.26000000000002" x2="411" y2="199.26000000000002" stroke="#444" stroke-width="0.8"/>
<text x="408.9" y="200.96" font-size="7.3" text-anchor="end" fill="#3a3a3a" stroke="#3a3a3a" stroke-width="0.1" stroke-opacity="0.3">-4</text>
<line x1="449.7" y1="229.5" x2="449.7" y2="231.4" stroke="#444" stroke-width="0.8"/>
<text x="448.5" y="239.0" font-size="7.3" text-anchor="middle" fill="#3a3a3a" stroke="#3a3a3a" stroke-width="0.1" stroke-opacity="0.3">-4</text>
<line x1="409.6" y1="168.78" x2="411" y2="168.78" stroke="#444" stroke-width="0.8"/>
<text x="408.9" y="170.48" font-size="7.3" text-anchor="end" fill="#3a3a3a" stroke="#3a3a3a" stroke-width="0.1" stroke-opacity="0.3">-2</text>
<line x1="488.1" y1="229.5" x2="488.1" y2="231.4" stroke="#444" stroke-width="0.8"/>
<text x="486.9" y="239.0" font-size="7.3" text-anchor="middle" fill="#3a3a3a" stroke="#3a3a3a" stroke-width="0.1" stroke-opacity="0.3">-2</text>
<line x1="409.6" y1="138.3" x2="411" y2="138.3" stroke="#444" stroke-width="0.8"/>
<text x="408.9" y="140.0" font-size="7.3" text-anchor="end" fill="#3a3a3a" stroke="#3a3a3a" stroke-width="0.1" stroke-opacity="0.3">0</text>
<line x1="526.5" y1="229.5" x2="526.5" y2="231.4" stroke="#444" stroke-width="0.8"/>
<text x="526.5" y="239.0" font-size="7.3" text-anchor="middle" fill="#3a3a3a" stroke="#3a3a3a" stroke-width="0.1" stroke-opacity="0.3">0</text>
<line x1="409.6" y1="107.82" x2="411" y2="107.82" stroke="#444" stroke-width="0.8"/>
<text x="408.9" y="109.52" font-size="7.3" text-anchor="end" fill="#3a3a3a" stroke="#3a3a3a" stroke-width="0.1" stroke-opacity="0.3">2</text>
<line x1="564.9" y1="229.5" x2="564.9" y2="231.4" stroke="#444" stroke-width="0.8"/>
<text x="564.9" y="239.0" font-size="7.3" text-anchor="middle" fill="#3a3a3a" stroke="#3a3a3a" stroke-width="0.1" stroke-opacity="0.3">2</text>
<line x1="409.6" y1="77.33999999999999" x2="411" y2="77.33999999999999" stroke="#444" stroke-width="0.8"/>
<text x="408.9" y="79.04" font-size="7.3" text-anchor="end" fill="#3a3a3a" stroke="#3a3a3a" stroke-width="0.1" stroke-opacity="0.3">4</text>
<line x1="603.3" y1="229.5" x2="603.3" y2="231.4" stroke="#444" stroke-width="0.8"/>
<text x="603.3" y="239.0" font-size="7.3" text-anchor="middle" fill="#3a3a3a" stroke="#3a3a3a" stroke-width="0.1" stroke-opacity="0.3">4</text>
<line x1="409.6" y1="46.86" x2="411" y2="46.86" stroke="#444" stroke-width="0.8"/>
<text x="408.9" y="48.56" font-size="7.3" text-anchor="end" fill="#3a3a3a" stroke="#3a3a3a" stroke-width="0.1" stroke-opacity="0.3">6</text>
<line x1="641.7" y1="229.5" x2="641.7" y2="231.4" stroke="#444" stroke-width="0.8"/>
<text x="641.7" y="239.0" font-size="7.3" text-anchor="middle" fill="#3a3a3a" stroke="#3a3a3a" stroke-width="0.1" stroke-opacity="0.3">6</text>
<line x1="409.6" y1="16.38" x2="411" y2="16.38" stroke="#444" stroke-width="0.8"/>
<text x="408.9" y="18.08" font-size="7.3" text-anchor="end" fill="#3a3a3a" stroke="#3a3a3a" stroke-width="0.1" stroke-opacity="0.3">8</text>
<line x1="680.1" y1="229.5" x2="680.1" y2="231.4" stroke="#444" stroke-width="0.8"/>
<text x="680.1" y="239.0" font-size="7.3" text-anchor="middle" fill="#3a3a3a" stroke="#3a3a3a" stroke-width="0.1" stroke-opacity="0.3">8</text>
<text x="516" y="248.4" font-size="7.5" text-anchor="start" fill="#222" stroke="#222" stroke-width="0.1">RNA-seq log2FC</text>
<text x="0" y="0" font-size="7.5" text-anchor="middle" fill="#222" stroke="#222" stroke-width="0.1" transform="translate(400,124.1) rotate(-90) scale(1,1.1)">qRT-PCR log2FC</text>
<text x="438.8" y="29.3" font-size="7.6" text-anchor="start" fill="#333" stroke="#333" stroke-width="0.1" stroke-opacity="0.4">y=0.9055x-0.138</text>
<text x="446.5" y="38" font-size="7.6" fill="#333" stroke="#333" stroke-width="0.25" stroke-opacity="0.4">R<tspan font-size="3.8" dy="-3.2">2</tspan><tspan dy="3.2">=0.8165</tspan></text>
<line x1="445.2" y1="198.4" x2="655.5" y2="47.6" stroke="#222" stroke-width="0.9"/>
<rect x="654.2" y="66.1" width="1.6" height="1.6" fill="#4d74b0"/>
<rect x="654.7" y="78.0" width="1.6" height="1.6" fill="#4d74b0"/>
<rect x="623.7" y="77.3" width="1.6" height="1.6" fill="#4d74b0"/>
<rect x="599.4" y="71.3" width="1.6" height="1.6" fill="#4d74b0"/>
<rect x="596.6" y="72.5" width="1.6" height="1.6" fill="#4d74b0"/>
<rect x="576.1" y="76.1" width="1.6" height="1.6" fill="#4d74b0"/>
<rect x="578.5" y="77.3" width="1.6" height="1.6" fill="#4d74b0"/>
<rect x="592.3" y="81.6" width="1.6" height="1.6" fill="#4d74b0"/>
<rect x="594.2" y="81.6" width="1.6" height="1.6" fill="#4d74b0"/>
<rect x="587.1" y="86.1" width="1.6" height="1.6" fill="#4d74b0"/>
<rect x="589.9" y="86.8" width="1.6" height="1.6" fill="#4d74b0"/>
<rect x="579.9" y="87.3" width="1.6" height="1.6" fill="#4d74b0"/>
<rect x="587.1" y="89.2" width="1.6" height="1.6" fill="#4d74b0"/>
<rect x="597.5" y="88.0" width="1.6" height="1.6" fill="#4d74b0"/>
<rect x="606.6" y="91.1" width="1.6" height="1.6" fill="#4d74b0"/>
<rect x="599.0" y="91.6" width="1.6" height="1.6" fill="#4d74b0"/>
<rect x="562.5" y="91.6" width="1.6" height="1.6" fill="#4d74b0"/>
<rect x="578.5" y="92.8" width="1.6" height="1.6" fill="#4d74b0"/>
<rect x="564.9" y="95.6" width="1.6" height="1.6" fill="#4d74b0"/>
<rect x="592.3" y="96.3" width="1.6" height="1.6" fill="#4d74b0"/>
<rect x="628.5" y="95.6" width="1.6" height="1.6" fill="#4d74b0"/>
<rect x="555.4" y="96.3" width="1.6" height="1.6" fill="#4d74b0"/>
<rect x="578.0" y="97.5" width="1.6" height="1.6" fill="#4d74b0"/>
<rect x="578.0" y="99.0" width="1.6" height="1.6" fill="#4d74b0"/>
<rect x="580.9" y="96.1" width="1.6" height="1.6" fill="#4d74b0"/>
<rect x="573.2" y="100.9" width="1.6" height="1.6" fill="#4d74b0"/>
<rect x="556.6" y="99.4" width="1.6" height="1.6" fill="#4d74b0"/>
<rect x="565.6" y="103.7" width="1.6" height="1.6" fill="#4d74b0"/>
<rect x="564.2" y="105.6" width="1.6" height="1.6" fill="#4d74b0"/>
<rect x="588.7" y="104.9" width="1.6" height="1.6" fill="#4d74b0"/>
<rect x="557.8" y="107.3" width="1.6" height="1.6" fill="#4d74b0"/>
<rect x="559.0" y="108.5" width="1.6" height="1.6" fill="#4d74b0"/>
<rect x="557.1" y="110.4" width="1.6" height="1.6" fill="#4d74b0"/>
<rect x="555.4" y="112.1" width="1.6" height="1.6" fill="#4d74b0"/>
<rect x="564.9" y="112.1" width="1.6" height="1.6" fill="#4d74b0"/>
<rect x="580.9" y="113.2" width="1.6" height="1.6" fill="#4d74b0"/>
<rect x="562.5" y="115.2" width="1.6" height="1.6" fill="#4d74b0"/>
<rect x="571.3" y="116.8" width="1.6" height="1.6" fill="#4d74b0"/>
<rect x="573.2" y="116.8" width="1.6" height="1.6" fill="#4d74b0"/>
<rect x="576.1" y="117.3" width="1.6" height="1.6" fill="#4d74b0"/>
<rect x="601.3" y="116.8" width="1.6" height="1.6" fill="#4d74b0"/>
<rect x="564.9" y="118.0" width="1.6" height="1.6" fill="#4d74b0"/>
<rect x="563.2" y="120.4" width="1.6" height="1.6" fill="#4d74b0"/>
<rect x="569.0" y="121.6" width="1.6" height="1.6" fill="#4d74b0"/>
<rect x="569.7" y="124.7" width="1.6" height="1.6" fill="#4d74b0"/>
<rect x="573.2" y="124.7" width="1.6" height="1.6" fill="#4d74b0"/>
<rect x="578.0" y="126.3" width="1.6" height="1.6" fill="#4d74b0"/>
<rect x="588.7" y="125.6" width="1.6" height="1.6" fill="#4d74b0"/>
<rect x="559.0" y="125.2" width="1.6" height="1.6" fill="#4d74b0"/>
<rect x="560.2" y="127.1" width="1.6" height="1.6" fill="#4d74b0"/>
<rect x="555.4" y="128.0" width="1.6" height="1.6" fill="#4d74b0"/>
<rect x="557.8" y="131.1" width="1.6" height="1.6" fill="#4d74b0"/>
<rect x="556.6" y="133.5" width="1.6" height="1.6" fill="#4d74b0"/>
<rect x="554.2" y="96.2" width="1.6" height="1.6" fill="#4d74b0"/>
<rect x="548.2" y="97.0" width="1.6" height="1.6" fill="#4d74b0"/>
<rect x="540.5" y="98.1" width="1.6" height="1.6" fill="#4d74b0"/>
<rect x="539.4" y="101.3" width="1.6" height="1.6" fill="#4d74b0"/>
<rect x="557.7" y="102.2" width="1.6" height="1.6" fill="#4d74b0"/>
<rect x="534.7" y="102.9" width="1.6" height="1.6" fill="#4d74b0"/>
<rect x="565.3" y="102.9" width="1.6" height="1.6" fill="#4d74b0"/>
<rect x="533.9" y="105.4" width="1.6" height="1.6" fill="#4d74b0"/>
<rect x="558.5" y="105.7" width="1.6" height="1.6" fill="#4d74b0"/>
<rect x="552.9" y="108.1" width="1.6" height="1.6" fill="#4d74b0"/>
<rect x="558.5" y="107.6" width="1.6" height="1.6" fill="#4d74b0"/>
<rect x="539.9" y="101.1" width="1.6" height="1.6" fill="#4d74b0"/>
<rect x="556.9" y="102.4" width="1.6" height="1.6" fill="#4d74b0"/>
<rect x="557.7" y="107.1" width="1.6" height="1.6" fill="#4d74b0"/>
<rect x="559.0" y="109.0" width="1.6" height="1.6" fill="#4d74b0"/>
<rect x="552.6" y="108.7" width="1.6" height="1.6" fill="#4d74b0"/>
<rect x="556.9" y="110.6" width="1.6" height="1.6" fill="#4d74b0"/>
<rect x="556.1" y="111.9" width="1.6" height="1.6" fill="#4d74b0"/>
<rect x="568.8" y="112.2" width="1.6" height="1.6" fill="#4d74b0"/>
<rect x="535.2" y="114.3" width="1.6" height="1.6" fill="#4d74b0"/>
<rect x="544.2" y="114.8" width="1.6" height="1.6" fill="#4d74b0"/>
<rect x="554.2" y="115.1" width="1.6" height="1.6" fill="#4d74b0"/>
<rect x="545.8" y="117.0" width="1.6" height="1.6" fill="#4d74b0"/>
<rect x="551.3" y="116.7" width="1.6" height="1.6" fill="#4d74b0"/>
<rect x="564.0" y="115.9" width="1.6" height="1.6" fill="#4d74b0"/>
<rect x="530.7" y="117.5" width="1.6" height="1.6" fill="#4d74b0"/>
<rect x="532.0" y="119.8" width="1.6" height="1.6" fill="#4d74b0"/>
<rect x="535.8" y="121.4" width="1.6" height="1.6" fill="#4d74b0"/>
<rect x="537.9" y="122.7" width="1.6" height="1.6" fill="#4d74b0"/>
<rect x="541.8" y="120.6" width="1.6" height="1.6" fill="#4d74b0"/>
<rect x="549.0" y="120.6" width="1.6" height="1.6" fill="#4d74b0"/>
<rect x="562.5" y="118.6" width="1.6" height="1.6" fill="#4d74b0"/>
<rect x="564.8" y="119.8" width="1.6" height="1.6" fill="#4d74b0"/>
<rect x="571.2" y="116.7" width="1.6" height="1.6" fill="#4d74b0"/>
<rect x="534.7" y="124.6" width="1.6" height="1.6" fill="#4d74b0"/>
<rect x="537.9" y="124.3" width="1.6" height="1.6" fill="#4d74b0"/>
<rect x="541.8" y="123.0" width="1.6" height="1.6" fill="#4d74b0"/>
<rect x="570.4" y="121.4" width="1.6" height="1.6" fill="#4d74b0"/>
<rect x="570.4" y="124.6" width="1.6" height="1.6" fill="#4d74b0"/>
<rect x="523.1" y="124.6" width="1.6" height="1.6" fill="#4d74b0"/>
<rect x="540.2" y="128.6" width="1.6" height="1.6" fill="#4d74b0"/>
<rect x="545.8" y="129.0" width="1.6" height="1.6" fill="#4d74b0"/>
<rect x="555.3" y="128.1" width="1.6" height="1.6" fill="#4d74b0"/>
<rect x="559.3" y="127.0" width="1.6" height="1.6" fill="#4d74b0"/>
<rect x="560.5" y="129.4" width="1.6" height="1.6" fill="#4d74b0"/>
<rect x="559.3" y="131.7" width="1.6" height="1.6" fill="#4d74b0"/>
<rect x="544.2" y="131.7" width="1.6" height="1.6" fill="#4d74b0"/>
<rect x="556.9" y="133.3" width="1.6" height="1.6" fill="#4d74b0"/>
<rect x="543.4" y="134.9" width="1.6" height="1.6" fill="#4d74b0"/>
<rect x="532.6" y="137.9" width="1.6" height="1.6" fill="#4d74b0"/>
<rect x="543.7" y="132.4" width="1.6" height="1.6" fill="#4d74b0"/>
<rect x="543.7" y="135.5" width="1.6" height="1.6" fill="#4d74b0"/>
<rect x="556.9" y="133.2" width="1.6" height="1.6" fill="#4d74b0"/>
<rect x="559.0" y="130.5" width="1.6" height="1.6" fill="#4d74b0"/>
<rect x="506.1" y="145.1" width="1.6" height="1.6" fill="#4d74b0"/>
<rect x="508.8" y="145.1" width="1.6" height="1.6" fill="#4d74b0"/>
<rect x="502.9" y="148.6" width="1.6" height="1.6" fill="#4d74b0"/>
<rect x="511.3" y="147.5" width="1.6" height="1.6" fill="#4d74b0"/>
<rect x="513.2" y="147.0" width="1.6" height="1.6" fill="#4d74b0"/>
<rect x="523.6" y="146.7" width="1.6" height="1.6" fill="#4d74b0"/>
<rect x="517.2" y="148.6" width="1.6" height="1.6" fill="#4d74b0"/>
<rect x="519.6" y="148.2" width="1.6" height="1.6" fill="#4d74b0"/>
<rect x="520.9" y="150.2" width="1.6" height="1.6" fill="#4d74b0"/>
<rect x="500.5" y="151.1" width="1.6" height="1.6" fill="#4d74b0"/>
<rect x="512.0" y="153.3" width="1.6" height="1.6" fill="#4d74b0"/>
<rect x="519.3" y="153.0" width="1.6" height="1.6" fill="#4d74b0"/>
<rect x="522.0" y="152.2" width="1.6" height="1.6" fill="#4d74b0"/>
<rect x="497.4" y="155.9" width="1.6" height="1.6" fill="#4d74b0"/>
<rect x="499.0" y="157.5" width="1.6" height="1.6" fill="#4d74b0"/>
<rect x="501.3" y="157.8" width="1.6" height="1.6" fill="#4d74b0"/>
<rect x="499.8" y="159.0" width="1.6" height="1.6" fill="#4d74b0"/>
<rect x="507.7" y="157.0" width="1.6" height="1.6" fill="#4d74b0"/>
<rect x="509.3" y="156.5" width="1.6" height="1.6" fill="#4d74b0"/>
<rect x="522.0" y="158.6" width="1.6" height="1.6" fill="#4d74b0"/>
<rect x="508.2" y="160.9" width="1.6" height="1.6" fill="#4d74b0"/>
<rect x="502.9" y="163.3" width="1.6" height="1.6" fill="#4d74b0"/>
<rect x="520.4" y="162.2" width="1.6" height="1.6" fill="#4d74b0"/>
<rect x="499.0" y="168.1" width="1.6" height="1.6" fill="#4d74b0"/>
<rect x="467.6" y="154.0" width="1.6" height="1.6" fill="#4d74b0"/>
<rect x="483.5" y="155.5" width="1.6" height="1.6" fill="#4d74b0"/>
<rect x="501.4" y="157.9" width="1.6" height="1.6" fill="#4d74b0"/>
<rect x="503.0" y="158.7" width="1.6" height="1.6" fill="#4d74b0"/>
<rect x="507.8" y="156.8" width="1.6" height="1.6" fill="#4d74b0"/>
<rect x="462.2" y="161.9" width="1.6" height="1.6" fill="#4d74b0"/>
<rect x="491.1" y="161.1" width="1.6" height="1.6" fill="#4d74b0"/>
<rect x="502.2" y="163.8" width="1.6" height="1.6" fill="#4d74b0"/>
<rect x="487.9" y="166.3" width="1.6" height="1.6" fill="#4d74b0"/>
<rect x="489.5" y="167.0" width="1.6" height="1.6" fill="#4d74b0"/>
<rect x="456.5" y="167.9" width="1.6" height="1.6" fill="#4d74b0"/>
<rect x="491.9" y="169.0" width="1.6" height="1.6" fill="#4d74b0"/>
<rect x="492.7" y="171.1" width="1.6" height="1.6" fill="#4d74b0"/>
<rect x="480.0" y="171.4" width="1.6" height="1.6" fill="#4d74b0"/>
<rect x="488.7" y="177.0" width="1.6" height="1.6" fill="#4d74b0"/>
<rect x="491.1" y="177.5" width="1.6" height="1.6" fill="#4d74b0"/>
<rect x="492.7" y="177.0" width="1.6" height="1.6" fill="#4d74b0"/>
<rect x="489.5" y="179.7" width="1.6" height="1.6" fill="#4d74b0"/>
<rect x="475.2" y="178.6" width="1.6" height="1.6" fill="#4d74b0"/>
<rect x="498.7" y="178.6" width="1.6" height="1.6" fill="#4d74b0"/>
<rect x="481.6" y="181.7" width="1.6" height="1.6" fill="#4d74b0"/>
<rect x="473.6" y="187.3" width="1.6" height="1.6" fill="#4d74b0"/>
<rect x="502.2" y="187.3" width="1.6" height="1.6" fill="#4d74b0"/>
<rect x="473.0" y="187.4" width="1.6" height="1.6" fill="#4d74b0"/>
<rect x="474.2" y="188.1" width="1.6" height="1.6" fill="#4d74b0"/>
<rect x="501.0" y="196.7" width="1.6" height="1.6" fill="#4d74b0"/>
<rect x="446.2" y="200.6" width="1.6" height="1.6" fill="#4d74b0"/>
<rect x="450.6" y="199.9" width="1.6" height="1.6" fill="#4d74b0"/>
<rect x="445.6" y="203.5" width="1.6" height="1.6" fill="#4d74b0"/>
<rect x="459.9" y="201.2" width="1.6" height="1.6" fill="#4d74b0"/>
<rect x="444.4" y="221.3" width="1.6" height="1.6" fill="#4d74b0"/>
<rect x="452.1" y="223.8" width="1.6" height="1.6" fill="#4d74b0"/>
<rect x="512.9" y="177.9" width="1.6" height="1.6" fill="#4d74b0"/>
<rect x="491.1" y="136.2" width="1.6" height="1.6" fill="#4d74b0"/>
<rect x="507.8" y="144.9" width="1.6" height="1.6" fill="#4d74b0"/>
<rect x="525.2" y="129.0" width="1.6" height="1.6" fill="#4d74b0"/>
<rect x="523.1" y="132.9" width="1.6" height="1.6" fill="#4d74b0"/>
<rect x="520.5" y="133.7" width="1.6" height="1.6" fill="#4d74b0"/>
<rect x="530.4" y="131.3" width="1.6" height="1.6" fill="#4d74b0"/>
<rect x="527.6" y="132.5" width="1.6" height="1.6" fill="#4d74b0"/>
<rect x="514.1" y="136.3" width="1.6" height="1.6" fill="#4d74b0"/>
<rect x="520.5" y="136.9" width="1.6" height="1.6" fill="#4d74b0"/>
<rect x="528.8" y="139.3" width="1.6" height="1.6" fill="#4d74b0"/>
<rect x="509.0" y="143.6" width="1.6" height="1.6" fill="#4d74b0"/>
<rect x="520.0" y="141.8" width="1.6" height="1.6" fill="#4d74b0"/>
<rect x="521.6" y="140.5" width="1.6" height="1.6" fill="#4d74b0"/>
<rect x="523.2" y="139.2" width="1.6" height="1.6" fill="#4d74b0"/>
<rect x="524.8" y="137.8" width="1.6" height="1.6" fill="#4d74b0"/>
<rect x="526.4" y="136.5" width="1.6" height="1.6" fill="#4d74b0"/>
<rect x="528.0" y="135.3" width="1.6" height="1.6" fill="#4d74b0"/>
<rect x="539.4" y="125.3" width="1.6" height="1.6" fill="#4d74b0"/>
</svg>
</body></html>
